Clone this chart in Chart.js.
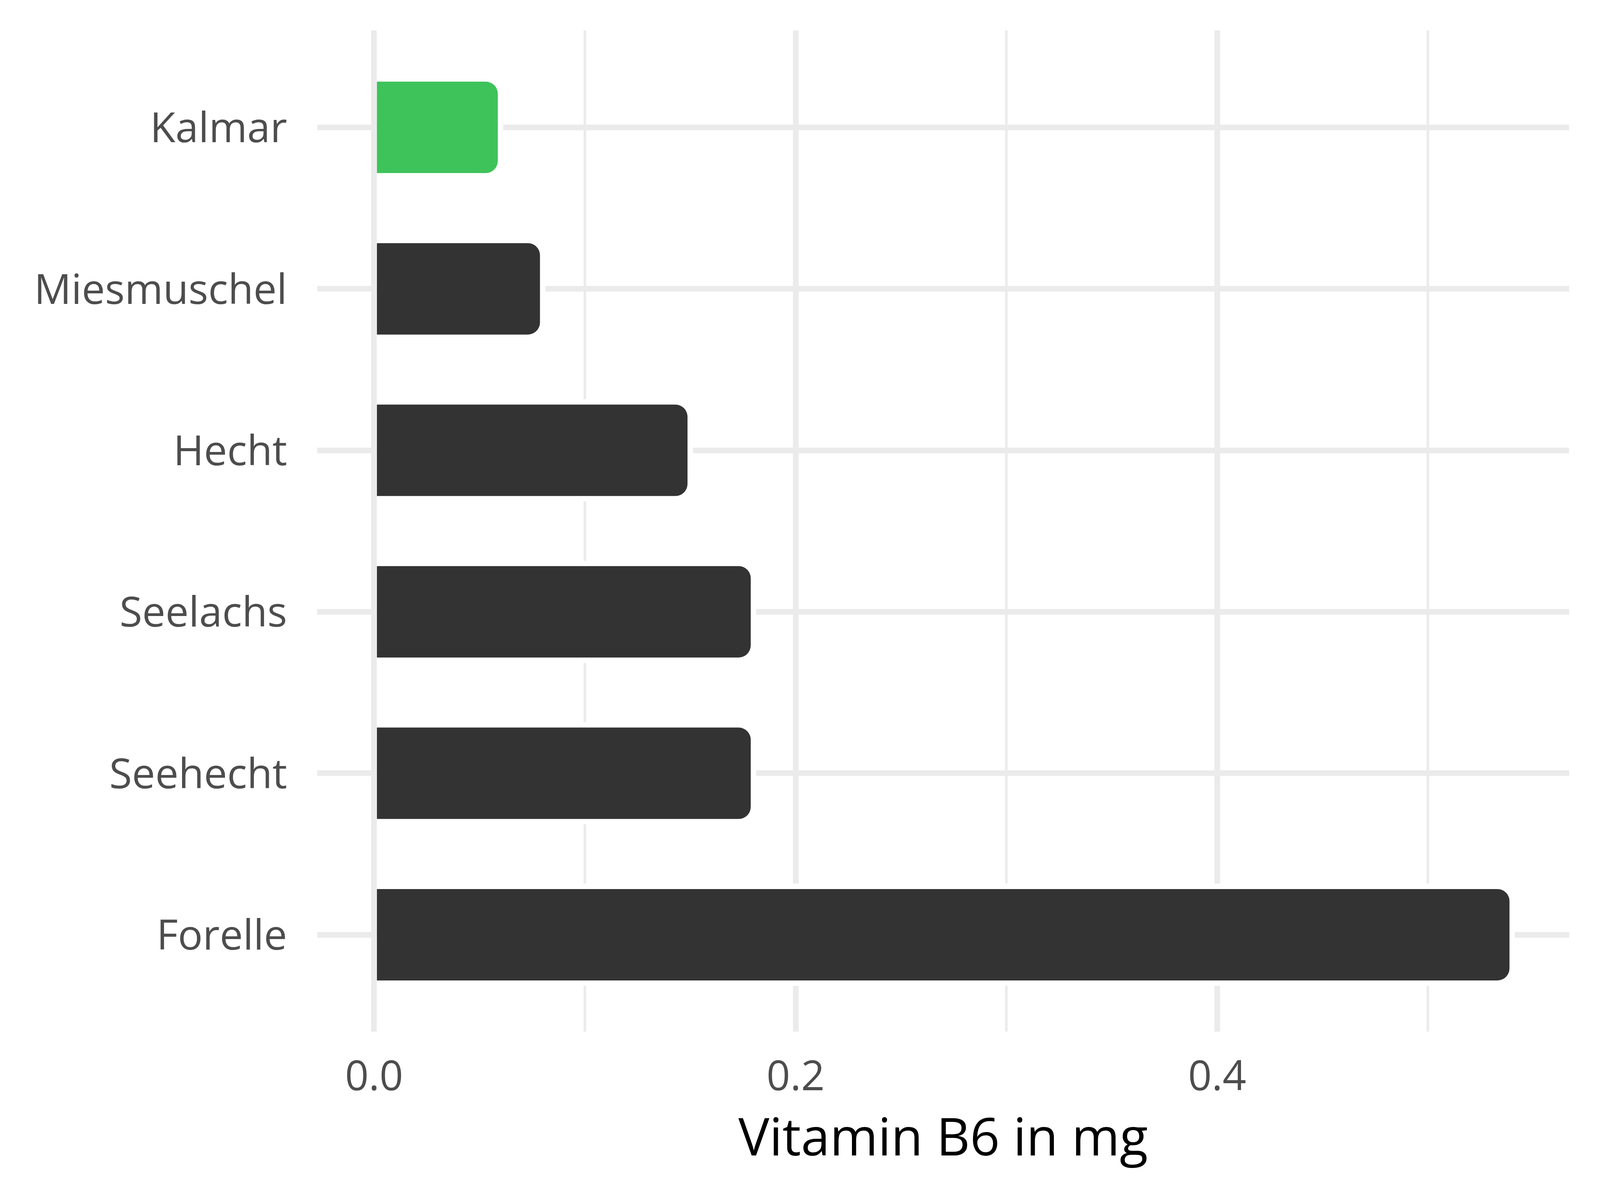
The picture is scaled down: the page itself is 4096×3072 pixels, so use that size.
<!DOCTYPE html>
<html>
<head>
<meta charset="utf-8">
<script src="https://cdn.jsdelivr.net/npm/chart.js@4/dist/chart.umd.min.js"></script>
<style>
  html, body { margin: 0; padding: 0; background: #fff; }
  #wrap { width: 4096px; height: 3072px; position: relative; }
</style>
</head>
<body>
<div id="wrap"><canvas id="chart"></canvas></div>
<script>
// data
const categories = ['Kalmar', 'Miesmuschel', 'Hecht', 'Seelachs', 'Seehecht', 'Forelle'];
const vitaminB6 = [0.06, 0.08, 0.15, 0.18, 0.18, 0.54];
const highlighted = 'Kalmar';
const xTickValues = [0, 0.1, 0.2, 0.3, 0.4, 0.5];
const xTickLabels = ['0.0', '', '0.2', '', '0.4', ''];
const xTitle = 'Vitamin B6 in mg';

const gridColor = '#EBEBEB';
Chart.defaults.font.family = '"Open Sans", "Noto Sans", sans-serif';

const ctx = document.getElementById('chart').getContext('2d');
const chart = new Chart(ctx, {
  type: 'bar',
  data: {
    datasets: [{
      data: vitaminB6.map((v, i) => ({ x: v, y: i })),
      backgroundColor: c => categories[c.dataIndex] === highlighted ? '#3EC35A' : '#333333',
      borderColor: '#FFFFFF',
      borderWidth: 14,
      inflateAmount: 7,
      borderRadius: 45,
      barPercentage: 0.6,
      categoryPercentage: 1
    }]
  },
  options: {
    indexAxis: 'y',
    responsive: true,
    maintainAspectRatio: false,
    animation: false,
    devicePixelRatio: 1,
    layout: { padding: { top: 78, right: 79, left: 0, bottom: 0 } },
    plugins: {
      legend: { display: false },
      tooltip: { enabled: false }
    },
    scales: {
      x: {
        type: 'linear',
        min: -0.027,
        max: 0.567,
        afterBuildTicks: s => { s.ticks = xTickValues.map(v => ({ value: v })); },
        afterFit: s => {
          s.height = 431;
          s.paddingLeft = 0;
          s.paddingRight = 0;
        },
        border: { display: false },
        grid: {
          color: gridColor,
          drawTicks: false,
          lineWidth: c => (c.tick && Math.round(c.tick.value * 10) % 2 === 0) ? 14.5 : 6.5
        },
        ticks: {
          autoSkip: false,
          maxRotation: 0,
          padding: 56,
          color: '#4D4D4D',
          font: { size: 106 },
          callback: (v, i) => xTickLabels[i]
        },
        title: {
          display: true,
          text: xTitle,
          color: '#000000',
          font: { size: 133 },
          padding: { top: 0, bottom: 72 }
        }
      },
      y: {
        type: 'linear',
        min: -0.6,
        max: 5.6,
        reverse: true,
        offset: false,
        afterBuildTicks: s => { s.ticks = categories.map((_, i) => ({ value: i })); },
        afterFit: s => {
          s.width = 812;
          s.paddingTop = 0;
          s.paddingBottom = 0;
        },
        border: { display: false },
        grid: { color: gridColor, lineWidth: 14.5, drawTicks: false, offset: false },
        ticks: {
          autoSkip: false,
          padding: 77,
          labelOffset: 8,
          color: '#4D4D4D',
          font: { size: 106 },
          callback: v => categories[v]
        }
      }
    }
  }
});
</script>
</body>
</html>
